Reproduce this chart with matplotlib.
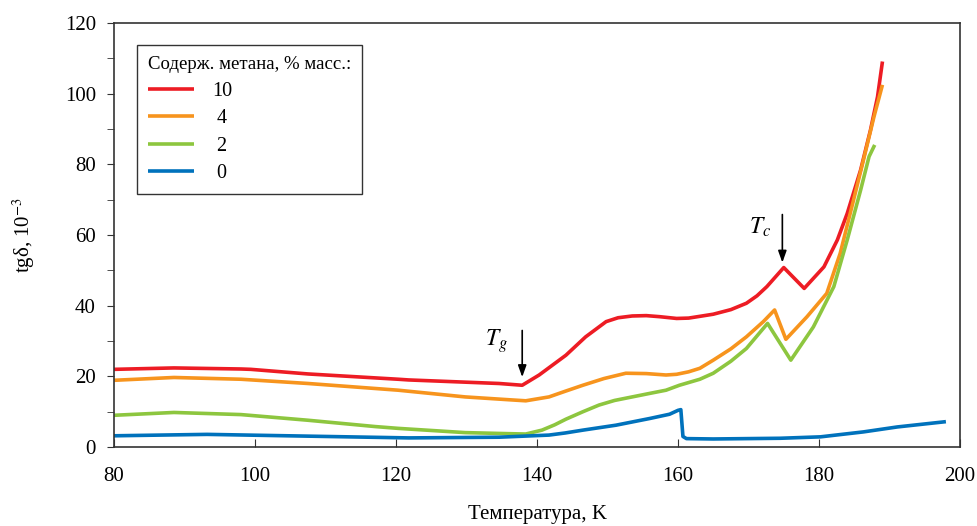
import matplotlib
matplotlib.use("Agg")
import matplotlib.pyplot as plt

plt.rcParams["font.family"] = ["Liberation Serif", "DejaVu Serif"]
plt.rcParams["mathtext.fontset"] = "stix"

# tg(delta) vs temperature for different methane contents
t_10 = [80, 88.5, 98, 99.4, 107.5, 120.3, 121.8, 134.6, 137.9, 140.3, 144.1, 146.9,
        149.8, 151.5, 153.5, 155.5, 157.4, 159.8, 161.5, 163.1, 165, 167.5, 169.7,
        171.2, 172.6, 175, 177.9, 180.7, 182.6, 184, 185.9, 187.3, 188.3, 189]
v_10 = [22.0, 22.4, 22.1, 22.0, 20.7, 19.2, 19.0, 18.0, 17.5, 20.4, 26.0, 31.2,
        35.5, 36.6, 37.1, 37.2, 36.9, 36.4, 36.5, 37.0, 37.6, 38.9, 40.7,
        42.8, 45.4, 50.8, 44.9, 51.0, 58.6, 66.1, 78.4, 89.7, 99.1, 109.1]

t_4 = [80, 88.5, 98, 107.5, 120.3, 129.8, 136, 138.4, 141.7, 144, 146.5, 149.5,
       152.6, 155.5, 158.3, 159.8, 161.5, 163.1, 165, 167.5, 169.7, 172.1, 173.7,
       175.3, 178.3, 181.1, 183, 184.9, 186.3, 187.8, 189]
v_4 = [18.9, 19.7, 19.2, 18.0, 16.1, 14.2, 13.4, 13.1, 14.2, 15.8, 17.5, 19.4,
       20.9, 20.8, 20.4, 20.6, 21.3, 22.3, 24.6, 27.8, 31.2, 35.5, 38.8,
       30.5, 36.9, 43.5, 54.8, 69.9, 81.2, 93.5, 102.5]

t_2 = [80, 88.5, 98, 107.5, 117.1, 120.3, 129.8, 136, 138.4, 140.7, 142.5, 144.1,
       146.5, 148.8, 151, 153.5, 156, 158.3, 160.2, 163.1, 165, 167.5, 169.7,
       172.7, 176, 179.2, 182.1, 184, 185.9, 187.1, 187.9]
v_2 = [9.0, 9.8, 9.2, 7.6, 5.8, 5.3, 4.1, 3.8, 3.7, 4.8, 6.3, 7.9,
       10.0, 11.9, 13.2, 14.2, 15.2, 16.1, 17.5, 19.2, 20.9, 24.3, 27.9,
       35.0, 24.6, 34.0, 45.4, 58.6, 72.7, 82.2, 85.5]

t_0 = [80, 93.2, 107.5, 121.8, 134.6, 141.7, 144, 146.5, 151.2, 156, 158.8, 160,
       160.4, 160.7, 161.2, 165, 174.5, 180.2, 186.3, 191.1, 198]
v_0 = [3.2, 3.6, 3.1, 2.6, 2.8, 3.4, 4.0, 4.8, 6.2, 8.1, 9.3, 10.4,
       10.6, 3.0, 2.4, 2.3, 2.5, 2.9, 4.3, 5.7, 7.2]

labels = ["10", " 4", " 2", " 0"]
colors = ["#ED1C24", "#F7941D", "#8DC63F", "#0072BC"]
series = [(t_10, v_10), (t_4, v_4), (t_2, v_2), (t_0, v_0)]

fig = plt.figure(figsize=(9.78, 5.26), dpi=100)
ax = fig.add_axes([0.1166, 0.150, 0.8650, 0.8063])

for (t, v), lab, c in zip(series, labels, colors):
    ax.plot(t, v, color=c, lw=2.6, label=lab, solid_joinstyle="round",
            solid_capstyle="butt")

ax.set_xlim(80, 200)
ax.set_ylim(0, 120)
ax.set_xticks(range(80, 201, 20))
ax.set_yticks(range(0, 121, 20))
ax.set_yticks(range(0, 121, 10), minor=True)
ax.tick_params(axis="x", direction="in", length=6, labelsize=15, pad=14,
               color="#333333")
ax.tick_params(axis="y", which="both", direction="out", length=5, labelsize=15,
               pad=8, color="#333333")
for s in ax.spines.values():
    s.set_color("#333333")
    s.set_linewidth(1.2)

ax.set_xlabel("Температура, K", fontsize=15, labelpad=14)
ax.set_ylabel("tgδ, 10$^{-3}$", fontsize=15, labelpad=20)

# transition markers
ax.annotate("", xy=(137.9, 19.8), xytext=(137.9, 33.0),
            arrowprops=dict(arrowstyle="-|>,head_length=0.7,head_width=0.25",
                            color="black", lw=1.2, shrinkA=0, shrinkB=0))
ax.text(134.3, 30.0, "$T_g$", fontsize=17, ha="center", va="center")
ax.annotate("", xy=(174.8, 52.2), xytext=(174.8, 65.8),
            arrowprops=dict(arrowstyle="-|>,head_length=0.7,head_width=0.25",
                            color="black", lw=1.2, shrinkA=0, shrinkB=0))
ax.text(171.7, 62.3, "$T_c$", fontsize=17, ha="center", va="center")

leg = ax.legend(title="Содерж. метана, % масс.:", loc="upper left",
                bbox_to_anchor=(0.027, 0.948), borderaxespad=0,
                fontsize=14.5, title_fontsize=13.5,
                frameon=True, fancybox=False, edgecolor="black",
                handlelength=2.3, handletextpad=0.9, labelspacing=0.42,
                borderpad=0.55, alignment="left")
leg.get_frame().set_linewidth(1.0)

fig.savefig("out.png", dpi=100)
